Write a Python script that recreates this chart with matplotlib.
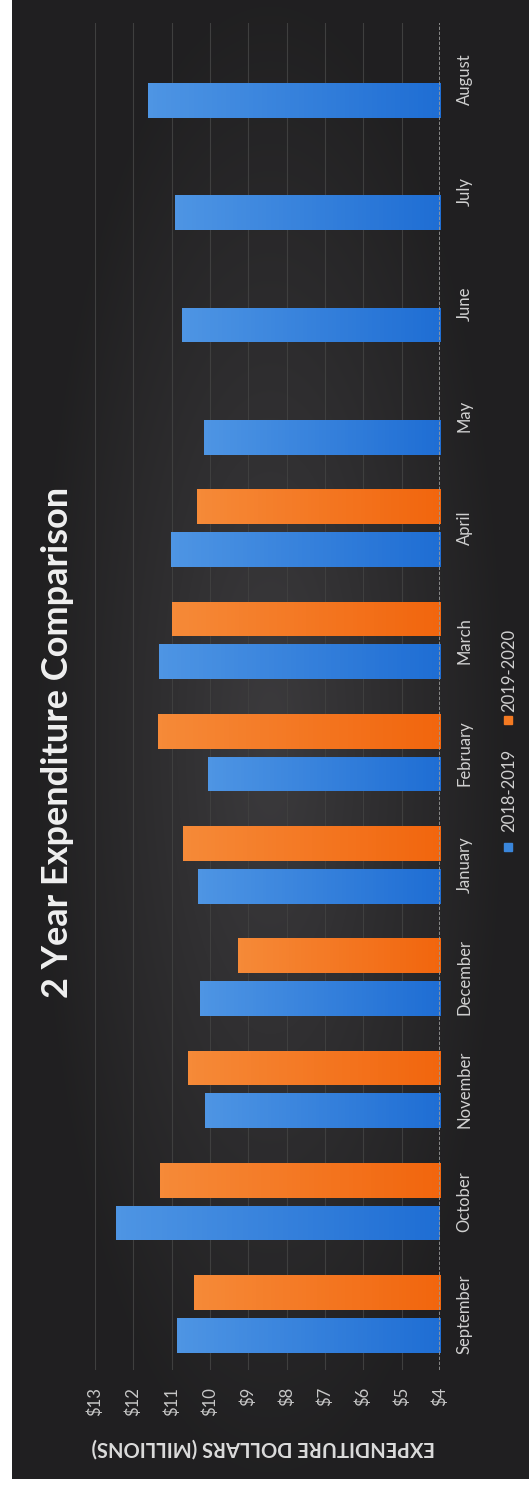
import numpy as np
import matplotlib
matplotlib.use("Agg")
import matplotlib.pyplot as plt
from matplotlib.patches import Rectangle

plt.rcParams['font.family'] = ['Lato', 'DejaVu Sans']

# data (millions of dollars)
months = ['September', 'October', 'November', 'December', 'January', 'February',
          'March', 'April', 'May', 'June', 'July', 'August']
fy_2018_2019 = [10.87, 12.44, 10.14, 10.27, 10.32, 10.06, 11.34, 11.02, 10.16, 10.74, 10.92, 11.62]
fy_2019_2020 = [10.42, 11.31, 10.58, 9.27, 10.71, 11.36, 11.00, 10.34]
series_names = ['2018-2019', '2019-2020']
dollar_ticks = list(range(4, 14))

blue = '#3a86dc'
orange = '#f47a22'
W, H = 529, 1485

fig = plt.figure(figsize=(W / 100, H / 100), dpi=100)
fig.patch.set_facecolor('white')

# background panel (dark, slightly lighter towards the middle)
bg = fig.add_axes([0, 0, 1, 1])
bg.set_xlim(0, W)
bg.set_ylim(H, 0)
bg.axis('off')
gx, gy = np.meshgrid(np.linspace(-1, 1, 200), np.linspace(-1, 1, 400))
r = np.clip(np.sqrt((gx * 1.1) ** 2 + (gy * 1.0) ** 2), 0, 1)
shade = 0.24 - 0.11 * r
img = np.dstack([shade * 0.98, shade * 0.96, shade * 1.0])
bg.imshow(img, extent=[12, W, 1479, 0], aspect='auto', interpolation='bilinear', zorder=0)

ax = fig.add_axes([95 / W, 115 / H, 345 / W, 1347 / H])
ax.set_facecolor('none')

y = np.arange(len(months))
h = 0.31
off = 0.19


def grad_bars(ypos, vals, c_light, c_dark):
    bars = ax.barh(ypos, vals, height=h, color=c_dark, zorder=3)
    cmap = matplotlib.colors.LinearSegmentedColormap.from_list('g', [c_light, c_dark])
    grad = np.linspace(0, 1, 64).reshape(1, -1)
    for b, v, yy in zip(bars, vals, ypos):
        im = ax.imshow(grad, cmap=cmap, extent=[v, 4, yy - h / 2, yy + h / 2],
                       aspect='auto', zorder=4)
        im.set_clip_path(b)
    return bars


grad_bars(y - off, fy_2018_2019, '#4e95e4', '#1f6ed4')
grad_bars(y[:len(fy_2019_2020)] + off, fy_2019_2020, '#f68a38', '#f2660e')

ax.set_xlim(13, 4)
ax.set_ylim(-0.5, len(months) - 0.5)
ax.set_aspect('auto')

for v in dollar_ticks[1:]:
    ax.axvline(v, color='#3f3f3f', lw=0.8, zorder=1)
ax.axvline(4, color='#9a9a9a', lw=1.2, ls=(0, (2, 1)), zorder=5)

for s in ax.spines.values():
    s.set_visible(False)

ax.set_xticks(dollar_ticks)
ax.set_xticklabels([f'${d}' for d in dollar_ticks], rotation=90, color='#c8c8c8', fontsize=12)
ax.yaxis.tick_right()
ax.set_yticks(y)
ax.set_yticklabels(months, rotation=90, va='center', color='#d0d0d0', fontsize=12)
ax.tick_params(axis='x', length=0, pad=12)
ax.tick_params(axis='y', length=0, pad=12)

# title, axis title and legend (rotated like the source page)
bg.text(58, 742, '2 Year Expenditure Comparison', rotation=90, ha='center', va='center',
        fontsize=26, fontweight='bold', color='#f0f0f0')
bg.text(263, 1447, 'EXPENDITURE DOLLARS (MILLIONS)', rotation=180, ha='center', va='center',
        fontsize=14.5, fontweight='bold', color='#dcdcdc')

bg.add_patch(Rectangle((504, 843), 8, 8, color=blue, zorder=3))
bg.text(509, 790, series_names[0], rotation=90, ha='center', va='center',
        fontsize=12, color='#d0d0d0')
bg.add_patch(Rectangle((504, 716), 8, 8, color=orange, zorder=3))
bg.text(509, 670, series_names[1], rotation=90, ha='center', va='center',
        fontsize=12, color='#d0d0d0')

fig.savefig('out.png', dpi=100)
